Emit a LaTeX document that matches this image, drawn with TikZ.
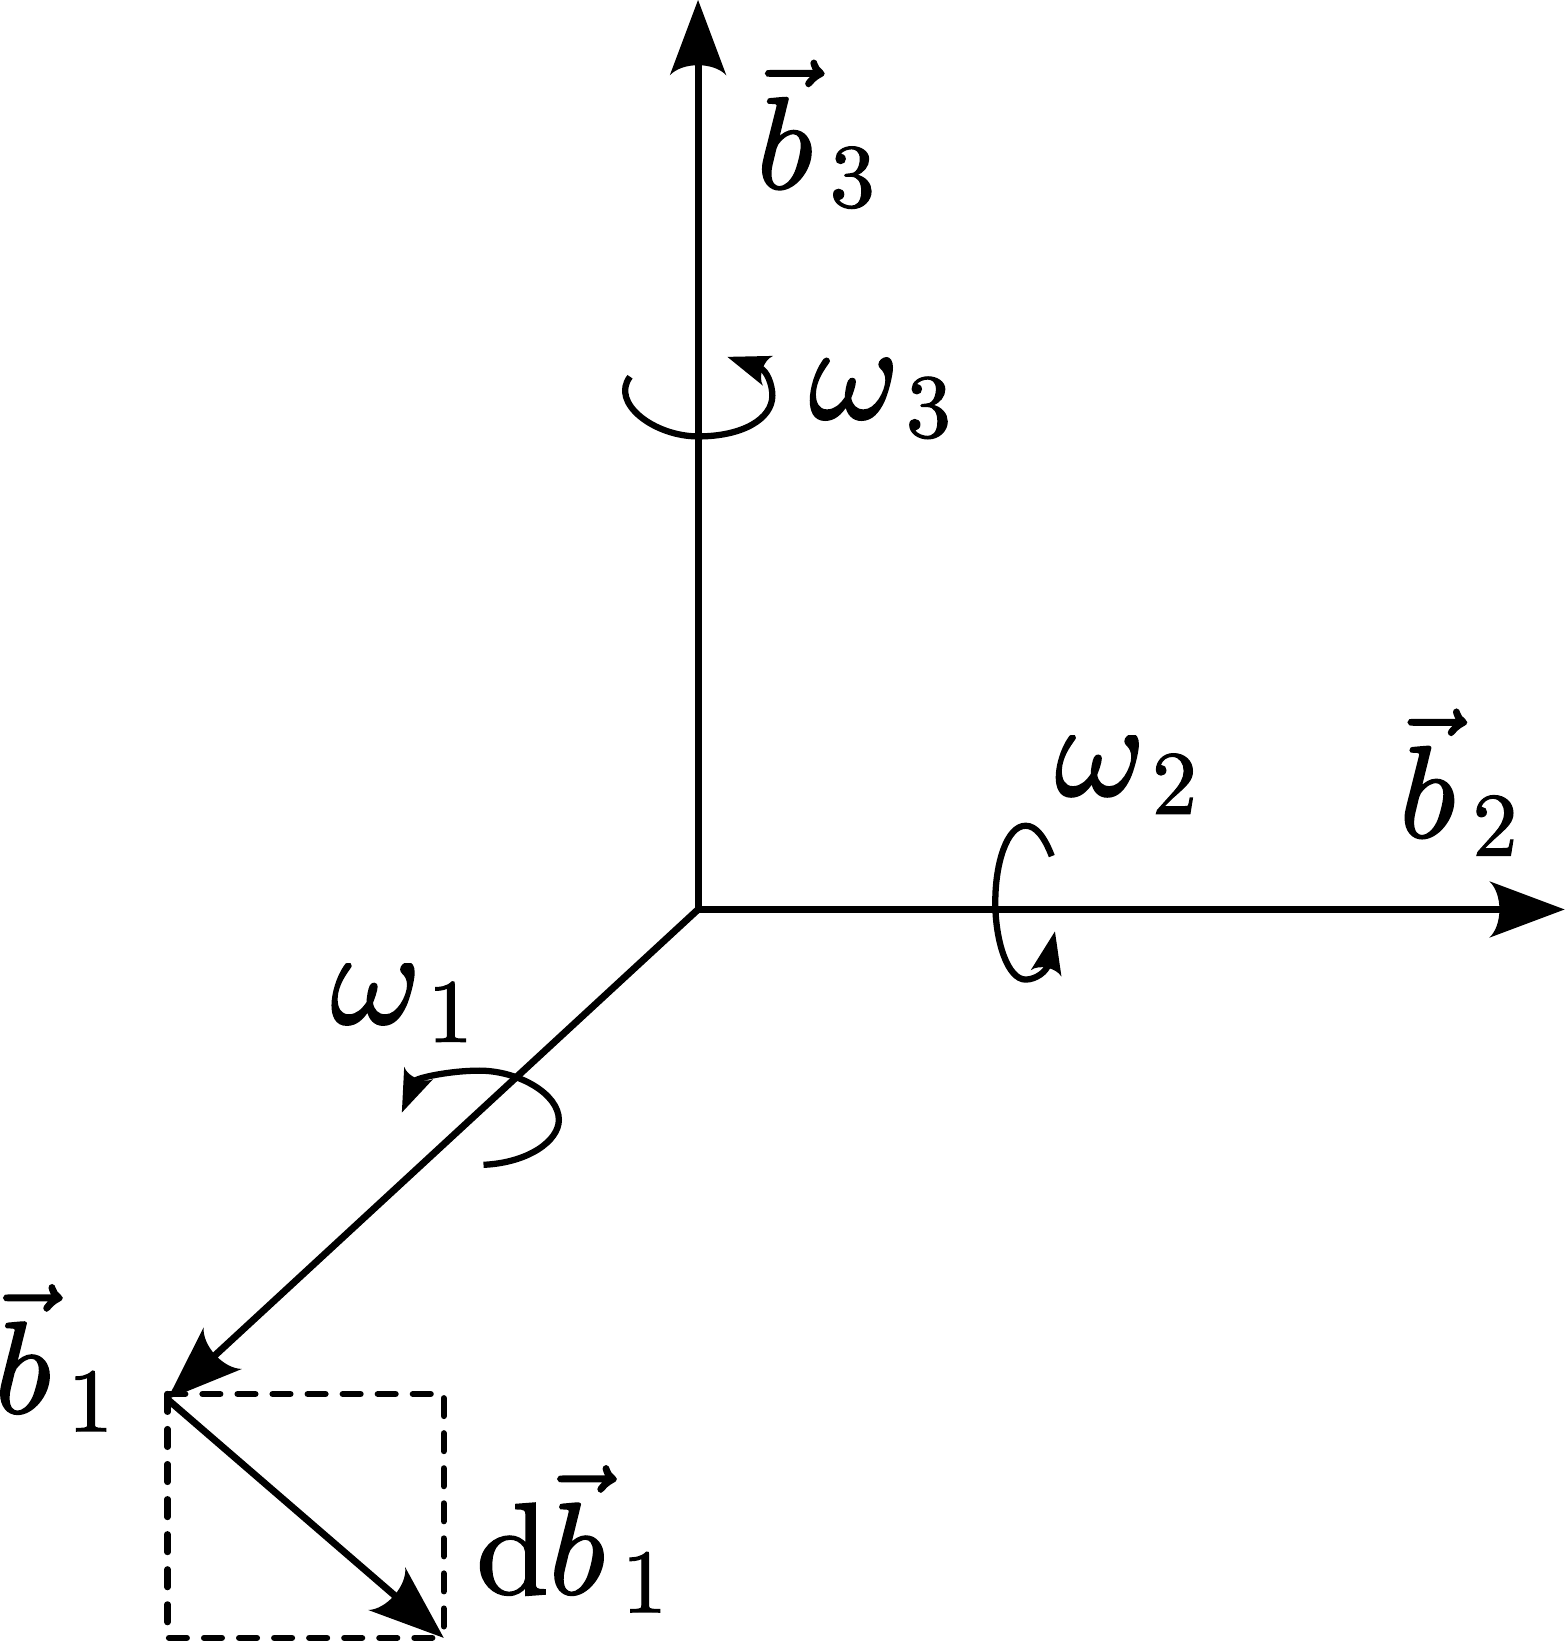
\documentclass[tikz,border=0pt]{standalone}
\usepackage{amsmath}
\usepackage{graphicx}
\usetikzlibrary{arrows.meta}
\pgfdeclarearrow{
  name=Hd,
  parameters={\the\pgfarrowlength,\the\pgfarrowwidth},
  setup code={
    \pgfarrowssettipend{0pt}
    \pgfarrowssetlineend{-.8\pgfarrowlength}
    \pgfarrowssetbackend{-\pgfarrowlength}
    \pgfarrowssetvisualbackend{-.8\pgfarrowlength}
    \pgfarrowssavethe\pgfarrowlength
    \pgfarrowssavethe\pgfarrowwidth
  },
  drawing code={
    \pgfpathmoveto{\pgfqpoint{0pt}{0pt}}
    \pgfpathlineto{\pgfqpoint{-\pgfarrowlength}{.5\pgfarrowwidth}}
    \pgfpathcurveto{\pgfqpoint{-.82\pgfarrowlength}{.28\pgfarrowwidth}}{\pgfqpoint{-.82\pgfarrowlength}{-.28\pgfarrowwidth}}{\pgfqpoint{-\pgfarrowlength}{-.5\pgfarrowwidth}}
    \pgfpathclose
    \pgfusepathqfill
  },
  defaults={length=70pt,width=54pt}
}
\tikzset{
  x=1pt,y=-1pt,
  axis/.style={line width=6.6pt,-{Hd[length=72pt,width=54pt]}},
  spin/.style={line width=6pt,-{Hd[length=41pt,width=30pt]}},
  guide/.style={line width=6pt,line cap=round,dash pattern=on 17pt off 16.5pt},
  lab/.style={anchor=base west,inner sep=0pt,outer sep=0pt,scale=12.5},
}
\newcommand{\heavy}[1]{\special{pdf:literal direct 2 Tr 0.13 w}#1\special{pdf:literal direct 0 Tr}}
\newcommand{\lowsub}[2]{\kern#1pt\raisebox{-1.4pt}{\scalebox{0.69}{$#2$}}}
\newcommand{\vb}[1]{\heavy{$\vec{b}$\lowsub{1.3}{#1}}}
\newcommand{\om}[1]{\heavy{\scalebox{1.05}{$\omega$}\lowsub{0.5}{#1}}}
\begin{document}
\begin{tikzpicture}
\useasboundingbox (0,0) rectangle (1495.5,1568);
\coordinate (O) at (667,869);
\coordinate (T3) at (667,0);
\coordinate (T2) at (1495,869);
\coordinate (T1) at (160,1337);
\coordinate (D) at (424,1565);
\coordinate (R1) at (160,1332);
\coordinate (R2) at (424,1332);
\coordinate (R3) at (160,1565);
\draw[guide] (R1) -- (R2) -- (D);
\draw[guide] (R1) -- (R3) -- (D);
\draw[axis] (O) -- (T3);
\draw[axis] (O) -- (T2);
\draw[axis] (O) -- (T1);
\draw[axis] (T1) -- (D);
\fill (O) circle (3.3pt);
\draw[spin] (602,360) .. controls (583,385) and (625,417) .. (667,417)
  .. controls (710,417) and (738,400) .. (738,378)
  .. controls (738,368) and (733,354) .. (695,341);
\draw[spin] (1005,818) .. controls (998,800) and (990,789) .. (980,789)
  .. controls (962,789) and (951,825) .. (951,862)
  .. controls (951,900) and (963,936) .. (980,936)
  .. controls (990,936) and (1000,928) .. (1008,890);
\draw[spin] (462,1113) .. controls (505,1111) and (534,1090) .. (534,1070)
  .. controls (534,1045) and (495,1023) .. (458,1023)
  .. controls (430,1023) and (398,1030) .. (384,1063);
\node[lab] (b3) at (723,180) {\vb{3}};
\node[lab] (b2) at (1337,800) {\vb{2}};
\node[lab] (b1) at (-5,1350) {\vb{1}};
\node[lab] (db) at (455,1523) {\heavy{$\mathrm{d}\vec{b}$\lowsub{1.3}{1}}};
\begin{scope}
\clip (760,342) rectangle (920,430);
\node[lab] (w3) at (773,400) {\om{3}};
\end{scope}
\begin{scope}
\clip (990,703) rectangle (1160,790);
\node[lab] (w2) at (1008,760) {\om{2}};
\end{scope}
\begin{scope}
\clip (300,921) rectangle (460,1005);
\node[lab] (w1) at (316,978) {\om{1}};
\end{scope}
\end{tikzpicture}
\end{document}
